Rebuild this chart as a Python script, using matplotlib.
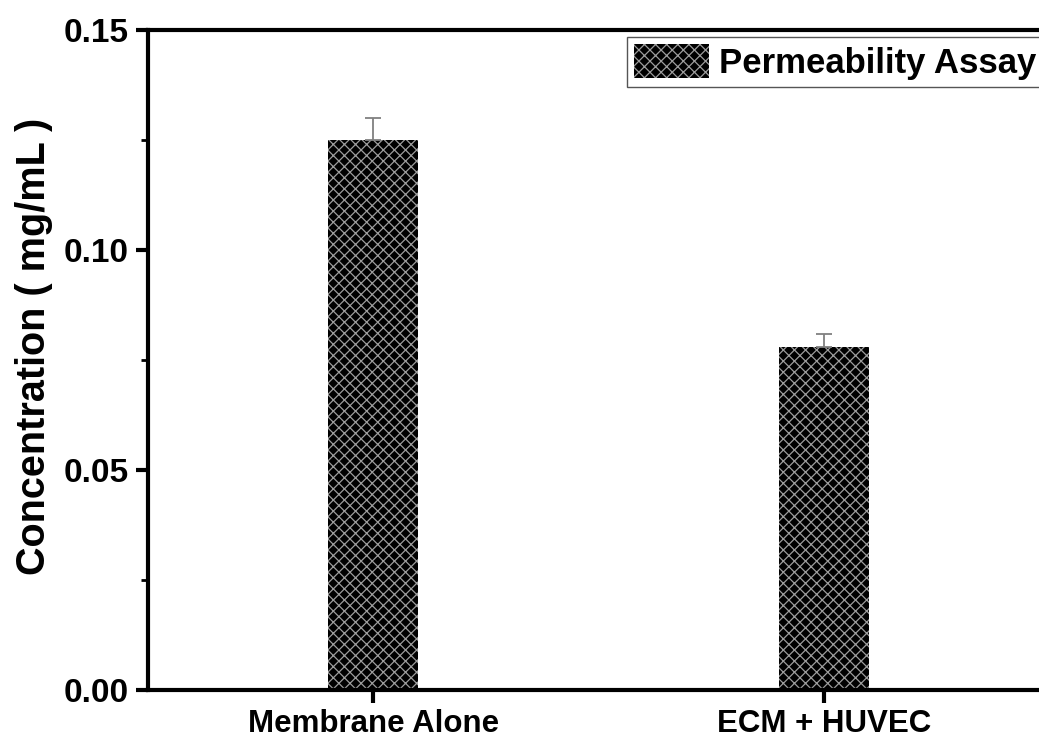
import matplotlib
matplotlib.use("Agg")
import matplotlib.pyplot as plt
from matplotlib.ticker import MultipleLocator

categories = ["Membrane Alone", "ECM + HUVEC"]
values = [0.125, 0.078]
errors = [0.005, 0.003]
series_label = "Permeability Assay"

plt.rcParams['font.family'] = ['Liberation Sans', 'DejaVu Sans']
plt.rcParams['font.weight'] = 'bold'
plt.rcParams['hatch.linewidth'] = 0.9
plt.rcParams['hatch.color'] = '#9c9c9c'

fig = plt.figure(figsize=(10.39, 7.42), dpi=100)
ax = fig.add_axes([0.1424, 0.0701, 0.8672, 0.8895])

x = [1, 2]
bars = ax.bar(x, values, width=0.2, color='black', edgecolor='#9c9c9c',
              hatch='xxx', linewidth=0, label=series_label, zorder=2)
ax.errorbar(x, values, yerr=[[0, 0], errors], fmt='none', ecolor='#808080',
            elinewidth=1.3, capsize=6, capthick=1.3, zorder=3)

ax.set_xlim(0.5, 2.5)
ax.set_ylim(0, 0.15)
ax.set_xticks(x)
ax.set_xticklabels(categories, fontsize=22.5, fontweight='bold')
ax.yaxis.set_major_locator(MultipleLocator(0.05))
ax.yaxis.set_minor_locator(MultipleLocator(0.025))
ax.set_yticks([0, 0.05, 0.10, 0.15])
ax.set_yticklabels(["0.00", "0.05", "0.10", "0.15"], fontsize=24, fontweight='bold')
ax.set_ylabel("Concentration ( mg/mL )", fontsize=28.5, fontweight='bold')
ax.yaxis.set_label_coords(-0.105, 0.52)

for s in ax.spines.values():
    s.set_linewidth(3)
ax.tick_params(axis='both', which='major', direction='out', length=9, width=3, pad=5)
ax.tick_params(axis='y', which='minor', direction='out', length=5, width=2)
ax.tick_params(axis='x', which='minor', length=0)

leg = ax.legend(loc='upper right', bbox_to_anchor=(0.998, 0.995), fancybox=False,
                frameon=True, edgecolor='#555555', framealpha=1,
                handlelength=2.15, handleheight=1.15, borderpad=0.2,
                handletextpad=0.3, borderaxespad=0.1,
                prop={'weight': 'bold', 'size': 25})
leg.get_frame().set_linewidth(1.0)

fig.savefig("out.png", dpi=100)
